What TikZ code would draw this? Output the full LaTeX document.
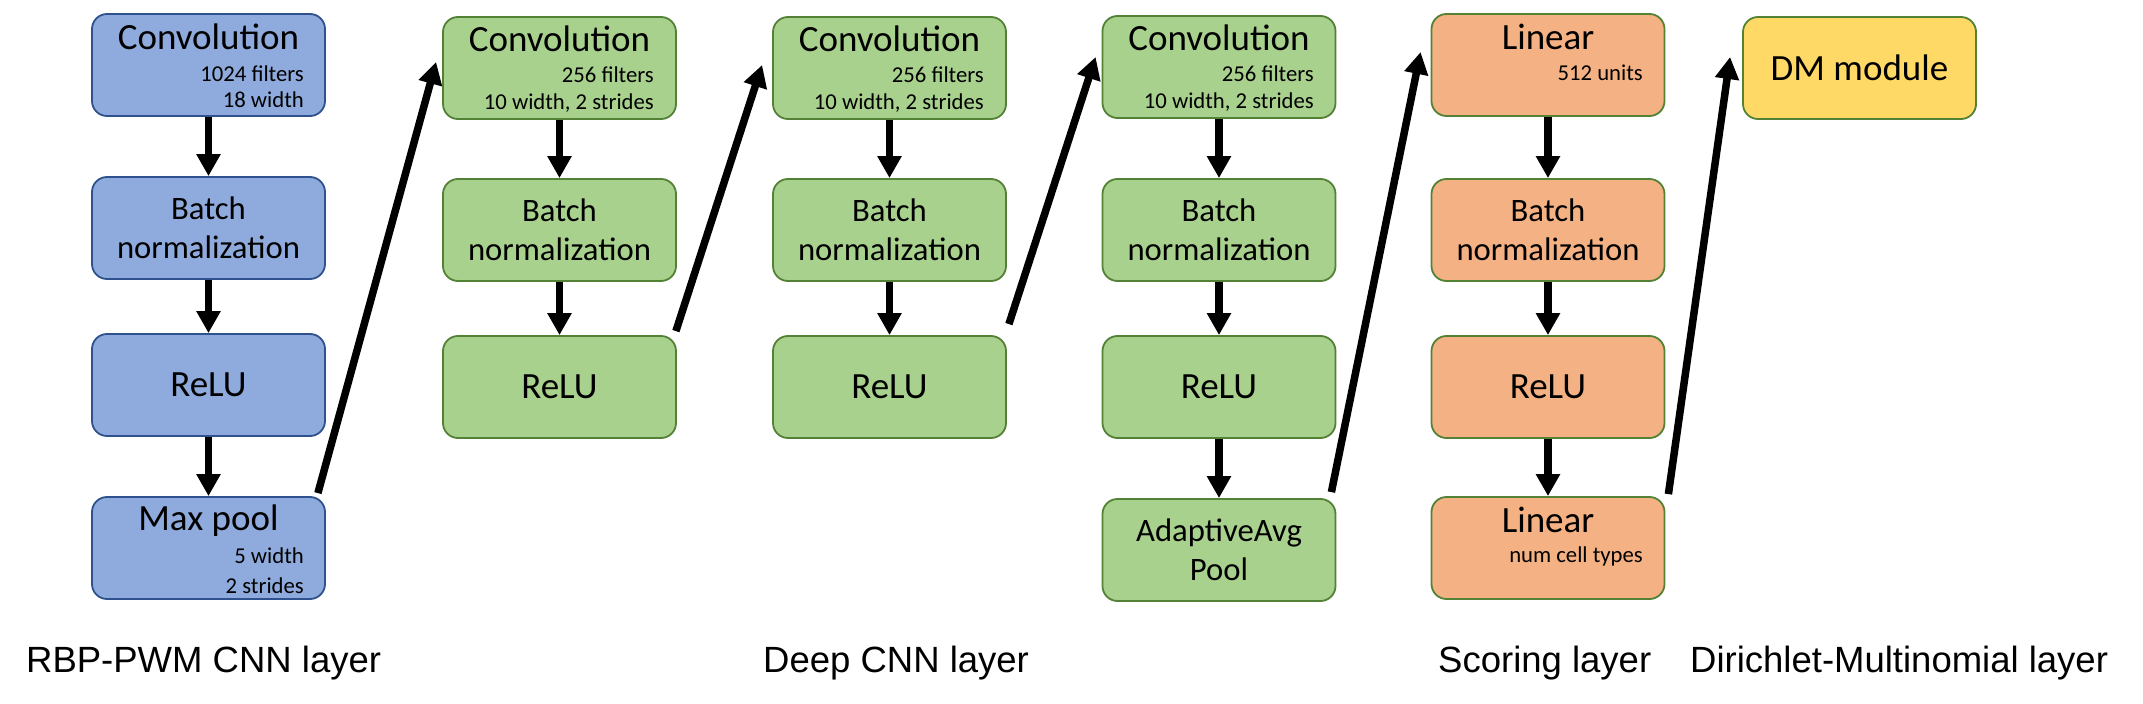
\documentclass[tikz,border=0pt]{standalone}
\usepackage{fontspec}
\newfontfamily\carl{Carlito}
\newfontfamily\lsans{Liberation Sans}
\usetikzlibrary{arrows.meta}
\definecolor{bluefill}{HTML}{8FAADC}
\definecolor{blueline}{HTML}{2F528F}
\definecolor{greenfill}{HTML}{A9D18E}
\definecolor{greenline}{HTML}{538135}
\definecolor{orangefill}{HTML}{F4B183}
\definecolor{yellowfill}{HTML}{FFD966}
\definecolor{edgegreen}{HTML}{548235}
\begin{document}
\begin{tikzpicture}[x=1bp,y=-1bp,
  box/.style={rounded corners=15bp, minimum width=233bp, minimum height=102bp, line width=1.8bp, inner sep=0pt, align=center, text=black},
  bluebox/.style={box, fill=bluefill, draw=blueline},
  greenbox/.style={box, fill=greenfill, draw=greenline},
  orangebox/.style={box, fill=orangefill, draw=edgegreen},
  yellowbox/.style={box, fill=yellowfill, draw=edgegreen},
  fT/.style={font=\carl\fontsize{37bp}{45bp}\selectfont},
  fM/.style={font=\carl\fontsize{32.7bp}{39.5bp}\selectfont},
  ttl/.style={font=\carl\fontsize{37bp}{45bp}\selectfont, anchor=base, inner sep=0pt},
  sub/.style={font=\carl\fontsize{22.7bp}{27bp}\selectfont, anchor=base east, inner sep=0pt},
  flow/.style={line width=7.5bp, -{Triangle[width=23bp,length=22bp]}},
  lbl/.style={font=\lsans\fontsize{36.5bp}{44bp}\selectfont, anchor=base west, inner sep=0pt}
]
\useasboundingbox (0,0) rectangle (2143,704);

% RBP-PWM CNN layer
\node[bluebox] (b1) at (208.5,65) {};
\node[ttl] (b1t) at (208.5,50) {Convolution};
\node[sub] (b1s1) at (304,82) {1024 filters};
\node[sub] (b1s2) at (304,108) {18 width};
\node[bluebox, fM] (b2) at (208.5,228) {Batch\\normalization};
\node[bluebox, fT] (b3) at (208.5,385) {ReLU};
\node[bluebox] (b4) at (208.5,548) {};
\node[ttl] (b4t) at (208.5,530) {Max pool};
\node[sub] (b4s1) at (304,563) {5 width};
\node[sub] (b4s2) at (304,593) {2 strides};

% Deep CNN layer, block 1
\node[greenbox] (g1a) at (559.5,68) {};
\node[ttl] (g1t) at (559.5,52) {Convolution};
\node[sub] (g1s1) at (654,83) {256 filters};
\node[sub] (g1s2) at (654,110) {10 width, 2 strides};
\node[greenbox, fM] (g1b) at (559.5,230) {Batch\\normalization};
\node[greenbox, fT] (g1c) at (559.5,387) {ReLU};

% block 2
\node[greenbox] (g2a) at (889.5,68) {};
\node[ttl] (g2t) at (889.5,52) {Convolution};
\node[sub] (g2s1) at (984,83) {256 filters};
\node[sub] (g2s2) at (984,110) {10 width, 2 strides};
\node[greenbox, fM] (g2b) at (889.5,230) {Batch\\normalization};
\node[greenbox, fT] (g2c) at (889.5,387) {ReLU};

% block 3
\node[greenbox] (g3a) at (1219,67) {};
\node[ttl] (g3t) at (1219,51) {Convolution};
\node[sub] (g3s1) at (1314,82) {256 filters};
\node[sub] (g3s2) at (1314,109) {10 width, 2 strides};
\node[greenbox, fM] (g3b) at (1219,230) {Batch\\normalization};
\node[greenbox, fT] (g3c) at (1219,387) {ReLU};
\node[greenbox, fM] (g3d) at (1219,550) {AdaptiveAvg\\Pool};

% Scoring layer
\node[orangebox] (o1) at (1548,65) {};
\node[ttl] (o1t) at (1548,50) {Linear};
\node[sub] (o1s) at (1643,81) {512 units};
\node[orangebox, fM] (o2) at (1548,230) {Batch\\normalization};
\node[orangebox, fT] (o3) at (1548,387) {ReLU};
\node[orangebox] (o4) at (1548,548) {};
\node[ttl] (o4t) at (1548,532) {Linear};
\node[sub] (o4s) at (1643,562) {num cell types};

% DM
\node[yellowbox, fT] (dm) at (1859.5,68) {DM module};

% vertical arrows
\draw[flow] (b1.south) -- (b2.north);
\draw[flow] (b2.south) -- (b3.north);
\draw[flow] (b3.south) -- (b4.north);
\draw[flow] (g1a.south) -- (g1b.north);
\draw[flow] (g1b.south) -- (g1c.north);
\draw[flow] (g2a.south) -- (g2b.north);
\draw[flow] (g2b.south) -- (g2c.north);
\draw[flow] (g3a.south) -- (g3b.north);
\draw[flow] (g3b.south) -- (g3c.north);
\draw[flow] (g3c.south) -- (g3d.north);
\draw[flow] (o1.south) -- (o2.north);
\draw[flow] (o2.south) -- (o3.north);
\draw[flow] (o3.south) -- (o4.north);

% diagonal arrows
\draw[flow] ([shift={(-8bp,3bp)}]b4.north east) -- ([shift={(-6bp,6bp)}]g1a.west);
\draw[flow] ([shift={(-1bp,4bp)}]g1c.north east) -- ([shift={(-10bp,3bp)}]g2a.west);
\draw[flow] ([shift={(2bp,11bp)}]g2c.north east) -- ([shift={(-6bp,10bp)}]g3a.west);
\draw[flow] ([shift={(-5bp,6bp)}]g3d.north east) -- ([shift={(-10bp,13bp)}]o1.west);
\draw[flow] ([shift={(3bp,2bp)}]o4.north east) -- ([shift={(-12bp,11bp)}]dm.west);

% layer labels
\node[lbl] (l1) at (26,672) {RBP-PWM CNN layer};
\node[lbl] (l2) at (763,672) {Deep CNN layer};
\node[lbl] (l3) at (1438,672) {Scoring layer};
\node[lbl] (l4) at (1690,672) {Dirichlet-Multinomial layer};
\end{tikzpicture}
\end{document}
